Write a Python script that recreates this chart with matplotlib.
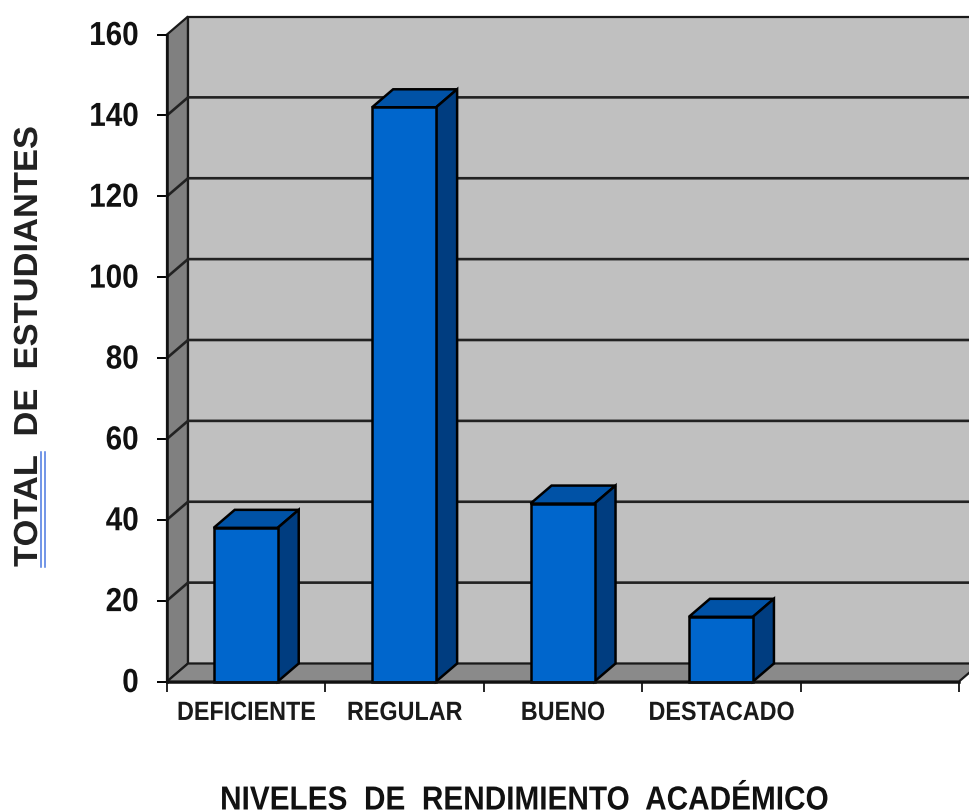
import matplotlib
matplotlib.use("Agg")
import matplotlib.pyplot as plt
from matplotlib.lines import Line2D
from matplotlib.patches import Polygon
from matplotlib.patheffects import AbstractPathEffect
from matplotlib.transforms import Affine2D

# chart data
categories = ["DEFICIENTE", "REGULAR", "BUENO", "DESTACADO"]
values = [38, 142, 44, 16]
yticks = [0, 20, 40, 60, 80, 100, 120, 140, 160]
n_slots = 5

W, H = 969, 812
plt.rcParams["font.family"] = ["Liberation Sans", "DejaVu Sans"]
plt.rcParams["font.weight"] = "bold"


# no narrow font here, so squeeze the glyph outlines along the text direction
class Squeeze(AbstractPathEffect):
    def __init__(self, sx, anchor="center", lift=0):
        super().__init__()
        self.sx = sx
        self.anchor = anchor
        self.lift = lift

    def draw_path(self, renderer, gc, tpath, affine, rgbFace=None):
        ext = tpath.get_extents()
        cx = ext.x1 if self.anchor == "right" else (ext.x0 + ext.x1) / 2
        squeeze = Affine2D().translate(-cx, 0).scale(self.sx, 1).translate(cx, 0)
        renderer.draw_path(gc, tpath, squeeze + affine + Affine2D().translate(0, self.lift), rgbFace)


fig = plt.figure(figsize=(W / 100, H / 100), dpi=100)
ax = fig.add_axes([167 / W, (H - 682.5) / H, (959 - 167) / W, (682.5 - 35.5) / H])
ax.set_xlim(0, n_slots)
ax.set_ylim(0, 160)
ax.patch.set_alpha(0)

# depth of the fake 3d box, in data units
dx = 21 / ((959 - 167) / n_slots)
dy = 18 / ((682.5 - 35.5) / 160)
ymax = yticks[-1]


def poly(pts, color, z, lw=1.6, edge="#1a1a1a"):
    ax.add_patch(Polygon(pts, closed=True, facecolor=color, edgecolor=edge,
                         linewidth=lw, zorder=z, clip_on=False))


# walls and floor
poly([(0, 0), (dx, dy), (dx, ymax + dy), (0, ymax)], "#808080", 1)
poly([(dx, dy), (n_slots + 1, dy), (n_slots + 1, ymax + dy), (dx, ymax + dy)], "#c0c0c0", 1)
poly([(0, 0), (dx, dy), (n_slots + 1, dy), (n_slots + dx, dy), (n_slots, 0)], "#8a8a8a", 2)

# gridlines run along the back wall and down the side wall
for v in yticks[1:-1]:
    ax.plot([0, dx, n_slots + 1], [v, v + dy, v + dy], color="#222222", lw=1.9,
            zorder=2, clip_on=False, solid_joinstyle="miter")

# bars
bar_w = 64 / ((959 - 167) / n_slots)
for i, v in enumerate(values):
    x = i + 0.5 - bar_w / 2 - 0.003
    ax.bar(x, v, width=bar_w, align="edge", color="#0066cc", edgecolor="black",
           linewidth=1.8, zorder=5, clip_on=False)
    poly([(x, v), (x + dx, v + dy), (x + bar_w + dx, v + dy), (x + bar_w, v)],
         "#0052a6", 4, 1.8, "black")
    poly([(x + bar_w, 0), (x + bar_w + dx, dy), (x + bar_w + dx, v + dy), (x + bar_w, v)],
         "#003d80", 4, 1.8, "black")

# axes, ticks, labels
for side in ("top", "right"):
    ax.spines[side].set_visible(False)
for side in ("left", "bottom"):
    ax.spines[side].set_linewidth(1.8)
    ax.spines[side].set_color("#111111")
    ax.spines[side].set_zorder(6)

ax.set_yticks(yticks)
ax.set_yticklabels([str(v) for v in yticks], fontsize=24, fontweight="bold", color="#111111")
ax.tick_params(axis="y", length=7, width=1.4, pad=13.2)
for lab in ax.get_yticklabels():
    lab.set_path_effects([Squeeze(0.89, "right", lift=1.5)])
ax.set_xticks(range(n_slots + 1))
ax.set_xticklabels([])
ax.tick_params(axis="x", which="major", length=7, width=1.2)
ax.set_xticks([i + 0.5 for i in range(len(categories))], minor=True)
ax.set_xticklabels(categories, minor=True, fontsize=19, fontweight="bold", color="#1a1a1a")
ax.tick_params(axis="x", which="minor", length=0, pad=14)
for lab in ax.get_xticklabels(minor=True):
    lab.set_path_effects([Squeeze(0.885)])

xt = fig.text(524.5 / W, 1 - 810.5 / H, "NIVELES  DE  RENDIMIENTO  ACADÉMICO", ha="center", va="baseline",
              fontsize=24, fontweight="bold", color="#111111")
xt.set_path_effects([Squeeze(0.893)])
yt = fig.text(28.5 / W, 1 - 347.5 / H, "TOTAL  DE  ESTUDIANTES", ha="center", va="center", rotation=90,
              fontsize=24, fontweight="bold", color="#222222")
yt.set_path_effects([Squeeze(1.035)])

# blue double underline under TOTAL
for px in (40.5, 44.5):
    fig.add_artist(Line2D([px / W, px / W], [1 - 453 / H, 1 - 568 / H],
                          color="#4a78e0", lw=1.1))

fig.savefig("out.png", dpi=100)
